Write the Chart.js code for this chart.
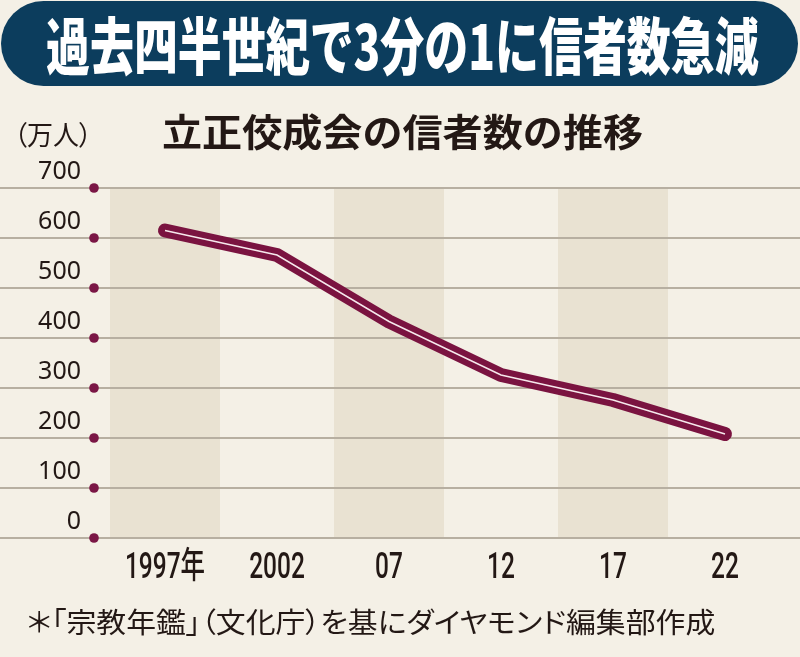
<!DOCTYPE html>
<html lang="ja">
<head>
<meta charset="utf-8">
<script src="https://cdn.jsdelivr.net/npm/chart.js@4"></script>
<style>
  html, body { margin: 0; padding: 0; }
  body {
    width: 800px; height: 657px; position: relative; overflow: hidden;
    background: #f4f0e6; color: #231815;
    font-family: "Noto Sans CJK JP", "Noto Sans", sans-serif;
  }
  #chart { position: absolute; left: 0; top: 0; }
  .fit { position: absolute; white-space: nowrap; transform-origin: 0 50%; }
  #banner {
    position: absolute; left: 1px; top: 1px; width: 797px; height: 85px;
    background: #0c3d5d; border-radius: 43px;
  }
  #title { left: 45px; top: 0; line-height: 85px; font-size: 62px; font-weight: 900; color: #fff; }
  #subtitle { left: 162px; top: 108px; line-height: 44px; font-size: 38px; font-weight: 700; }
  #unit { left: 14px; top: 117px; line-height: 34px; font-size: 27px; font-feature-settings: "palt"; }
  #note { left: 27px; top: 604px; line-height: 34px; font-size: 28px; font-feature-settings: "palt"; }
</style>
</head>
<body>
<canvas id="chart" width="800" height="657"></canvas>
<div id="banner"><span id="title" class="fit" data-w="713">過去四半世紀で3分の1に信者数急減</span></div>
<div id="subtitle" class="fit" data-w="481">立正佼成会の信者数の推移</div>
<div id="unit" class="fit" data-w="78">（万人）</div>
<div id="note" class="fit" data-w="688">＊「宗教年鑑」（文化庁）を基にダイヤモンド編集部作成</div>
<script>
const years = ["1997年", "2002", "07", "12", "17", "22"];
const members = [615, 566, 433, 326, 276, 208]; // 万人
const yMin = 0;
const yMax = 700;
const yStep = 100;

// squeeze the condensed-looking texts to their widths in the picture
document.querySelectorAll(".fit").forEach(el => {
  el.style.transform = `scaleX(${el.dataset.w / el.offsetWidth})`;
});

const backdrop = {
  id: "backdrop",
  beforeDatasetsDraw(chart) {
    const { ctx, scales: { x, y } } = chart;
    const w = x.getPixelForValue(1) - x.getPixelForValue(0);
    const top = y.getPixelForValue(yMax);
    const bottom = y.getPixelForValue(yMin);
    ctx.save();
    // shaded columns for every other year
    ctx.fillStyle = "#e9e2d2";
    years.forEach((yr, i) => {
      if (i % 2) return;
      const cx = x.getPixelForValue(i);
      ctx.fillRect(cx - w / 2 + 1, top, w - 2, bottom - top);
    });
    // grid lines run across the whole width, with a dot per tick
    y.ticks.forEach(t => {
      const py = y.getPixelForValue(t.value);
      ctx.strokeStyle = "#b7afa1";
      ctx.lineWidth = 2;
      ctx.beginPath();
      ctx.moveTo(0, py);
      ctx.lineTo(chart.width, py);
      ctx.stroke();
      ctx.fillStyle = "#7a1645";
      ctx.beginPath();
      ctx.arc(y.right - 15, py, 4.8, 0, Math.PI * 2);
      ctx.fill();
    });
    ctx.restore();
  },
  afterDraw(chart) {
    const { ctx, scales: { x, y } } = chart;
    ctx.save();
    ctx.fillStyle = "#231815";
    ctx.font = '500 36px Roboto, "Noto Sans CJK JP"';
    ctx.textAlign = "center";
    ctx.textBaseline = "middle";
    years.forEach((yr, i) => {
      ctx.save();
      ctx.translate(x.getPixelForValue(i), y.getPixelForValue(yMin) + 31);
      ctx.scale(0.68, 1);
      ctx.fillText(yr, 0, 0);
      ctx.restore();
    });
    ctx.restore();
  }
};

new Chart(document.getElementById("chart"), {
  type: "line",
  data: {
    labels: years,
    datasets: [
      {
        label: "inner",
        data: members,
        order: 0,
        borderColor: "#f6e8ec",
        borderWidth: 1.5,
        pointRadius: 0,
        tension: 0,
      },
      {
        label: "信者数",
        data: members,
        order: 1,
        borderColor: "#7a1340",
        borderWidth: 14,
        borderCapStyle: "round",
        borderJoinStyle: "round",
        pointRadius: 0,
        tension: 0,
      },
    ],
  },
  options: {
    responsive: false,
    animation: false,
    layout: { padding: { top: 188, bottom: 119, left: 0, right: 19 } },
    plugins: { legend: { display: false }, tooltip: { enabled: false } },
    scales: {
      x: {
        display: false,
        offset: true,
      },
      y: {
        min: yMin,
        max: yMax,
        grid: { display: false, drawTicks: false },
        border: { display: false },
        ticks: {
          stepSize: yStep,
          padding: 28,
          labelOffset: -16,
          color: "#231815",
          font: { family: "Noto Sans", size: 25 },
        },
        afterFit(scale) {
          scale.width = 109;
        },
      },
    },
  },
  plugins: [backdrop],
});
</script>
</body>
</html>
